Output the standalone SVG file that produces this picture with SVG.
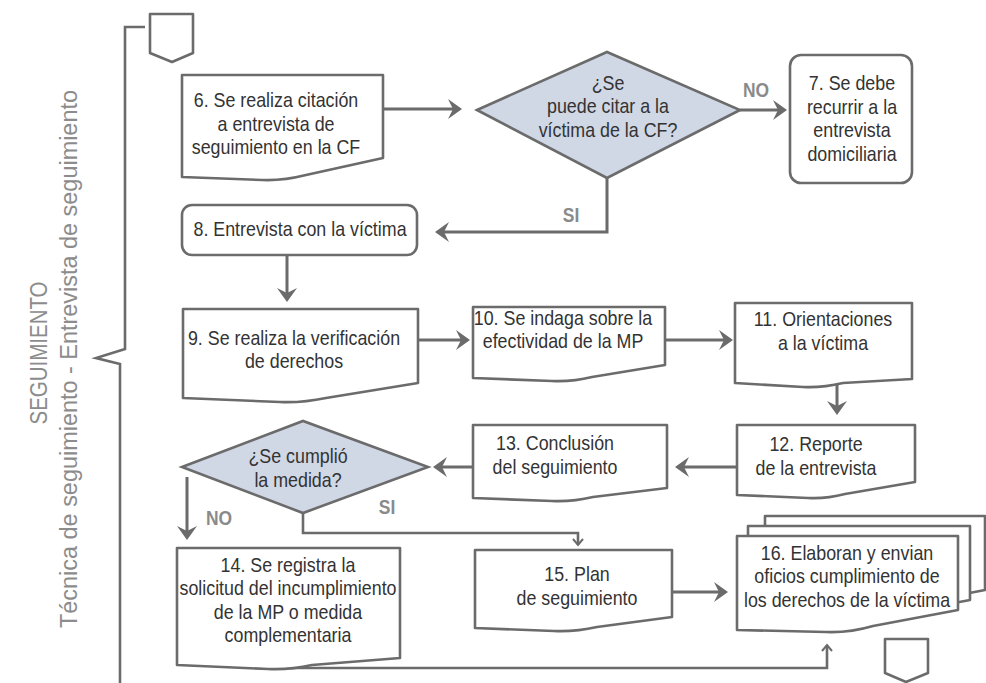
<svg xmlns="http://www.w3.org/2000/svg" width="986" height="683" viewBox="0 0 986 683">
<style>
.box{fill:#fff;stroke:#6b6b6b;stroke-width:2.6;stroke-linejoin:round}
.dia{fill:#d0d7e5;stroke:#6b6b6b;stroke-width:2.6;stroke-linejoin:miter}
.con{fill:none;stroke:#6b6b6b;stroke-width:3}
.thin{fill:none;stroke:#6b6b6b;stroke-width:2.6}
.t{font-family:"Liberation Sans",Arial,sans-serif;font-size:21px;fill:#333;text-anchor:middle}
.l{font-family:"Liberation Sans",Arial,sans-serif;font-size:20.5px;font-weight:bold;fill:#8a8a8a;text-anchor:middle}
.side{font-family:"Liberation Sans",Arial,sans-serif;font-size:23px;fill:#8c8c8c;text-anchor:middle}
</style>
<defs>
<marker id="ah" viewBox="0 -11 15 22" refX="5" refY="0" markerWidth="15" markerHeight="22" orient="auto" markerUnits="userSpaceOnUse"><path d="M0,-10 L14,0 L0,10 L5,0 Z" fill="#6b6b6b"/></marker>
<marker id="as" viewBox="-8 -6 10 12" refX="0" refY="0" markerWidth="10" markerHeight="12" orient="auto" markerUnits="userSpaceOnUse"><path d="M-6,-5 L0,0 L-6,5" fill="none" stroke="#6b6b6b" stroke-width="2"/></marker>
</defs>
<rect width="986" height="683" fill="#fff"/>

<g id="bracket">
<path class="thin" d="M145,27 H125 V349 L96,358 L120,364 V683"/>
<text class="side" transform="translate(47,353) rotate(-90)" textLength="143" lengthAdjust="spacingAndGlyphs">SEGUIMIENTO</text>
<text class="side" transform="translate(77,359) rotate(-90)" textLength="538" lengthAdjust="spacingAndGlyphs">Técnica de seguimiento - Entrevista de seguimiento</text>
</g>

<g id="offpage-top"><path class="box" d="M150,14 H193 V53 L172,62 L150,53 Z"/></g>
<g id="offpage-bottom"><path class="box" d="M885,639 H928 V673 L906,682 L885,673 Z"/></g>

<g id="connectors">
<path class="con" d="M383,109 H453" marker-end="url(#ah)"/>
<path class="con" d="M740,110 H778" marker-end="url(#ah)"/>
<path class="con" d="M607,178 V232 H444" marker-end="url(#ah)"/>
<path class="con" d="M287,255 V293" marker-end="url(#ah)"/>
<path class="con" d="M418,340 H461" marker-end="url(#ah)"/>
<path class="con" d="M665,340 H724" marker-end="url(#ah)"/>
<path class="con" d="M837,381 V406" marker-end="url(#ah)"/>
<path class="con" d="M737,467 H684" marker-end="url(#ah)"/>
<path class="con" d="M473,467 H442" marker-end="url(#ah)"/>
<path class="con" d="M187,477 V531" marker-end="url(#ah)"/>
<path class="thin" d="M303,513 V533 H578 V545" marker-end="url(#as)"/>
<path class="con" d="M672,592 H719" marker-end="url(#ah)"/>
<path class="thin" d="M290,668 H827 V645" marker-end="url(#as)"/>
<text class="l" transform="translate(756,0) scale(0.85,1)" x="0" y="97">NO</text>
<text class="l" transform="translate(571,0) scale(0.85,1)" x="0" y="222">SI</text>
<text class="l" transform="translate(219,0) scale(0.85,1)" x="0" y="525">NO</text>
<text class="l" transform="translate(387,0) scale(0.85,1)" x="0" y="514">SI</text>
</g>

<g id="n6">
<path class="box" d="M182,75 H383 V158 L306,175 Q282,181 262,180 L182,177 Z"/>
<text class="t" transform="translate(276,0) scale(0.85,1)"><tspan x="0" y="107">6. Se realiza citación</tspan><tspan x="0" y="131">a entrevista de</tspan><tspan x="0" y="154">seguimiento en la CF</tspan></text>
</g>

<g id="d1">
<path class="dia" d="M477,110 L607,52 L740,110 L607,178 Z"/>
<text class="t" transform="translate(608,0) scale(0.85,1)"><tspan x="0" y="90">¿Se</tspan><tspan x="0" y="113">puede citar a la</tspan><tspan x="0" y="137">víctima de la CF?</tspan></text>
</g>

<g id="n7">
<rect class="box" x="790" y="55" width="122" height="128" rx="11"/>
<text class="t" transform="translate(852,0) scale(0.85,1)"><tspan x="0" y="90">7. Se debe</tspan><tspan x="0" y="114">recurrir a la</tspan><tspan x="0" y="137">entrevista</tspan><tspan x="0" y="161">domiciliaria</tspan></text>
</g>

<g id="n8">
<rect class="box" x="182" y="205" width="235" height="50" rx="10"/>
<text class="t" transform="translate(300,0) scale(0.85,1)" x="0" y="236">8. Entrevista con la víctima</text>
</g>

<g id="n9">
<path class="box" d="M183,309 H418 V383 L326,398 Q302,403 280,402 L183,398 Z"/>
<text class="t" transform="translate(294,0) scale(0.85,1)"><tspan x="0" y="345">9. Se realiza la verificación</tspan><tspan x="0" y="368">de derechos</tspan></text>
</g>

<g id="n10">
<path class="box" d="M473,307 H665 V365 L592,377 Q572,382 552,381 L473,378 Z"/>
<text class="t" transform="translate(563,0) scale(0.85,1)"><tspan x="0" y="325">10. Se indaga sobre la</tspan><tspan x="0" y="348">efectividad de la MP</tspan></text>
</g>

<g id="n11">
<path class="box" d="M735,303 H912 V379 L843,383 Q822,388 803,387 L735,383 Z"/>
<text class="t" transform="translate(823,0) scale(0.85,1)"><tspan x="0" y="326">11. Orientaciones</tspan><tspan x="0" y="350">a la víctima</tspan></text>
</g>

<g id="n12">
<path class="box" d="M737,425 H915 V482 L845,494 Q826,499 808,498 L737,495 Z"/>
<text class="t" transform="translate(816,0) scale(0.85,1)"><tspan x="0" y="451">12. Reporte</tspan><tspan x="0" y="475">de la entrevista</tspan></text>
</g>

<g id="n13">
<path class="box" d="M473,425 H667 V488 L593,497 Q572,502 552,501 L473,498 Z"/>
<text class="t" transform="translate(555,0) scale(0.85,1)"><tspan x="0" y="450">13. Conclusión</tspan><tspan x="0" y="474">del seguimiento</tspan></text>
</g>

<g id="d2">
<path class="dia" d="M182,467 L303,421 L428,467 L303,513 Z"/>
<text class="t" transform="translate(298,0) scale(0.85,1)"><tspan x="0" y="463">¿Se cumplió</tspan><tspan x="0" y="487">la medida?</tspan></text>
</g>

<g id="n14">
<path class="box" d="M177,548 H400 V658 L312,665 Q290,670 268,669 L177,665 Z"/>
<text class="t" transform="translate(288,0) scale(0.85,1)"><tspan x="0" y="572">14.  Se registra la</tspan><tspan x="0" y="595">solicitud del incumplimiento</tspan><tspan x="0" y="619">de la MP o medida</tspan><tspan x="0" y="642">complementaria</tspan></text>
</g>

<g id="n15">
<path class="box" d="M475,550 H672 V617 L597,627 Q575,632 554,631 L475,628 Z"/>
<text class="t" transform="translate(577,0) scale(0.85,1)"><tspan x="0" y="581">15. Plan</tspan><tspan x="0" y="605">de seguimiento</tspan></text>
</g>

<g id="n16">
<path class="box" d="M765,516 H985 V590 L902,606 Q878,612 855,611 L765,610 Z"/>
<path class="box" d="M748,526 H970 V600 L885,616 Q861,622 838,621 L748,620 Z"/>
<path class="box" d="M737,536 H958 V610 L873,626 Q849,633 826,632 L737,630 Z"/>
<text class="t" transform="translate(847,0) scale(0.85,1)"><tspan x="0" y="560">16. Elaboran y envian</tspan><tspan x="0" y="583">oficios cumplimiento de</tspan><tspan x="0" y="607">los derechos de la víctima</tspan></text>
</g>
</svg>
